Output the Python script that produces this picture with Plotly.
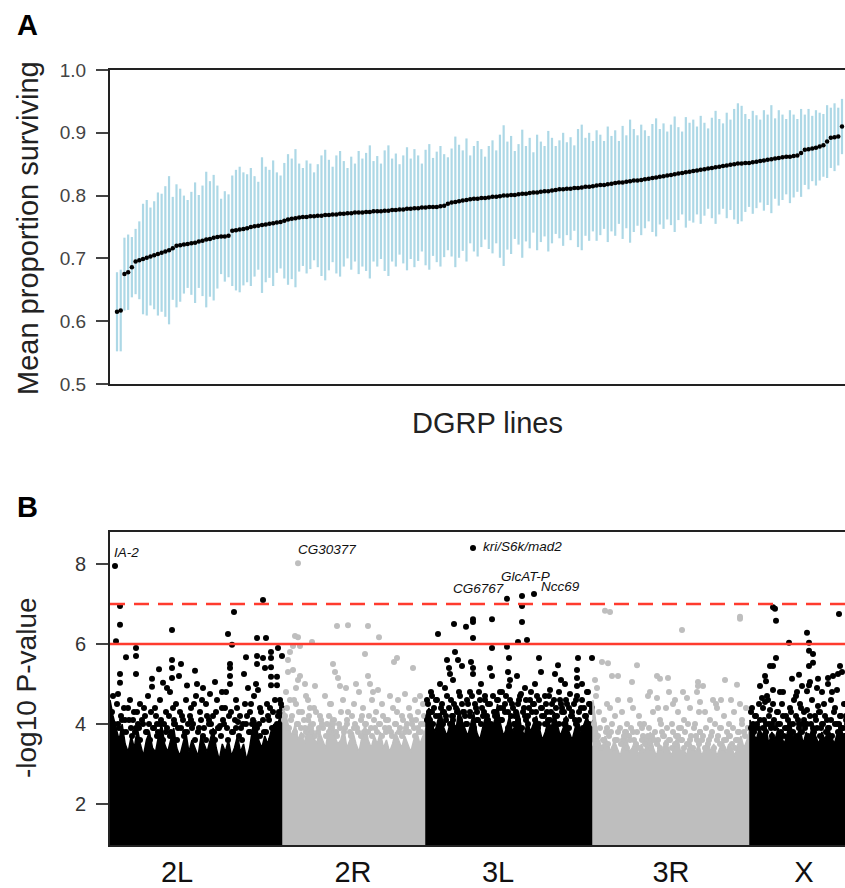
import numpy as np
import plotly.graph_objects as go

# ---------------- Panel A data: DGRP lines (sorted) ----------------
mean_surv = [
    0.615, 0.617, 0.675, 0.678, 0.686, 0.695, 0.697, 0.699, 0.701, 0.703,
    0.705, 0.707, 0.709, 0.711, 0.713, 0.716, 0.720, 0.721, 0.722, 0.723,
    0.724, 0.725, 0.727, 0.728, 0.730, 0.731, 0.733, 0.734, 0.735, 0.735,
    0.736, 0.744, 0.745, 0.746, 0.747, 0.748, 0.750, 0.751, 0.752, 0.753,
    0.754, 0.755, 0.756, 0.757, 0.758, 0.760, 0.762, 0.763, 0.764, 0.765,
    0.766, 0.766, 0.767, 0.767, 0.768, 0.768, 0.769, 0.769, 0.770, 0.770,
    0.771, 0.771, 0.772, 0.772, 0.773, 0.773, 0.773, 0.774, 0.774, 0.775,
    0.775, 0.775, 0.776, 0.776, 0.777, 0.777, 0.778, 0.778, 0.779, 0.779,
    0.780, 0.780, 0.781, 0.781, 0.782, 0.782, 0.782, 0.783, 0.784, 0.787,
    0.789, 0.790, 0.791, 0.792, 0.793, 0.794, 0.795, 0.795, 0.796, 0.796,
    0.797, 0.798, 0.798, 0.799, 0.800, 0.800, 0.801, 0.801, 0.802, 0.803,
    0.803, 0.804, 0.805, 0.805, 0.806, 0.807, 0.807, 0.808, 0.809, 0.810,
    0.810, 0.811, 0.811, 0.812, 0.812, 0.813, 0.814, 0.814, 0.815, 0.816,
    0.817, 0.817, 0.818, 0.819, 0.820, 0.821, 0.821, 0.822, 0.823, 0.824,
    0.824, 0.825, 0.826, 0.827, 0.828, 0.829, 0.830, 0.831, 0.832, 0.833,
    0.834, 0.835, 0.836, 0.837, 0.838, 0.839, 0.840, 0.841, 0.842, 0.843,
    0.844, 0.845, 0.846, 0.847, 0.848, 0.849, 0.850, 0.851, 0.851, 0.852,
    0.852, 0.853, 0.854, 0.855, 0.856, 0.857, 0.858, 0.859, 0.860, 0.861,
    0.862, 0.862, 0.863, 0.864, 0.868, 0.873, 0.874, 0.875, 0.876, 0.878,
    0.880, 0.886, 0.892, 0.893, 0.894, 0.910,
]
err_surv = [
    0.063, 0.065, 0.058, 0.060, 0.048, 0.052, 0.062, 0.088, 0.092, 0.078,
    0.086, 0.098, 0.094, 0.104, 0.118, 0.082, 0.098, 0.090, 0.078, 0.070,
    0.082, 0.096, 0.074, 0.088, 0.108, 0.092, 0.100, 0.082, 0.060, 0.072,
    0.066, 0.088, 0.096, 0.100, 0.090, 0.086, 0.094, 0.080, 0.070, 0.108,
    0.092, 0.086, 0.100, 0.080, 0.074, 0.092, 0.104, 0.096, 0.110, 0.086,
    0.078, 0.090, 0.084, 0.070, 0.082, 0.096, 0.104, 0.088, 0.076, 0.094,
    0.100, 0.084, 0.072, 0.090, 0.078, 0.098, 0.086, 0.094, 0.106, 0.080,
    0.088, 0.076, 0.096, 0.104, 0.082, 0.090, 0.072, 0.086, 0.098, 0.080,
    0.094, 0.084, 0.070, 0.092, 0.100, 0.078, 0.088, 0.096, 0.082, 0.074,
    0.086, 0.104, 0.090, 0.080, 0.098, 0.070, 0.084, 0.092, 0.078, 0.066,
    0.082, 0.090, 0.074, 0.098, 0.112, 0.086, 0.094, 0.070, 0.080, 0.102,
    0.076, 0.088, 0.064, 0.092, 0.080, 0.072, 0.096, 0.084, 0.070, 0.078,
    0.090, 0.074, 0.082, 0.068, 0.094, 0.100, 0.078, 0.086, 0.072, 0.088,
    0.080, 0.070, 0.092, 0.076, 0.084, 0.066, 0.090, 0.074, 0.098, 0.082,
    0.072, 0.088, 0.078, 0.068, 0.086, 0.094, 0.076, 0.084, 0.070, 0.080,
    0.092, 0.074, 0.066, 0.088, 0.078, 0.082, 0.070, 0.086, 0.074, 0.064,
    0.080, 0.090, 0.076, 0.068, 0.084, 0.072, 0.088, 0.096, 0.092, 0.078,
    0.070, 0.082, 0.074, 0.066, 0.080, 0.072, 0.086, 0.064, 0.076, 0.068,
    0.060, 0.074, 0.066, 0.058, 0.070, 0.056, 0.064, 0.052, 0.060, 0.054,
    0.050, 0.058, 0.048, 0.054, 0.046, 0.044,
]
line_rank = list(range(1, len(mean_surv) + 1))

# ---------------- Panel B data: GWAS Manhattan ----------------
chrom_names = ["2L", "2R", "3L", "3R", "X"]
chrom_start = [0, 173, 316, 483, 640]        # cumulative SNP position (plot units)
chrom_end = [173, 316, 483, 640, 740]
chrom_label_pos = [67, 243, 388, 561, 694]
chrom_color = ["black", "#bebebe", "black", "#bebebe", "black"]

# upper edge of the dense (saturated) block of SNPs, per chromosome, sampled along the chromosome
env_2L = [4.6, 4.2, 3.9, 3.6, 4.0, 3.5, 3.3, 3.7, 3.4, 3.9, 3.5, 3.2, 3.6, 3.8, 3.4, 3.3, 3.7, 4.0,
          3.5, 3.3, 3.6, 3.9, 3.4, 3.2, 3.5, 3.8, 3.3, 3.6, 3.4, 3.2, 3.7, 3.5, 3.3, 3.6, 3.9, 3.4,
          3.1, 3.5, 3.3, 3.6, 3.2, 3.4, 3.7, 3.3, 3.5, 3.1, 3.4, 3.9, 4.1, 3.6, 3.4, 3.7, 3.5, 3.8,
          4.0, 3.9, 4.2, 4.3]
env_2R = [4.4, 4.2, 3.9, 3.7, 4.0, 3.6, 3.8, 3.5, 3.9, 4.1, 3.7, 3.5, 3.8, 3.6, 3.4, 3.9, 4.2, 3.7,
          3.5, 3.6, 3.9, 3.4, 3.6, 3.8, 3.5, 3.3, 3.7, 4.0, 3.6, 3.4, 3.7, 3.5, 3.8, 3.4, 3.6, 3.3,
          3.5, 3.8, 3.6, 3.4, 3.7, 3.5, 3.3, 3.6, 3.8, 3.5, 3.7, 3.9]
env_3L = [4.2, 4.4, 4.0, 3.8, 4.1, 4.3, 3.9, 3.7, 4.0, 4.2, 3.8, 4.4, 4.1, 3.9, 3.7, 4.0, 4.3, 3.8,
          3.6, 3.9, 4.2, 4.0, 3.8, 4.1, 4.5, 4.0, 3.7, 3.9, 4.2, 3.8, 4.0, 4.3, 3.9, 3.7, 4.1, 3.8,
          4.0, 4.2, 3.9, 3.6, 3.8, 4.1, 3.9, 4.3, 4.0, 3.7, 3.9, 4.2, 3.8, 3.6, 3.9, 4.1, 3.8, 4.0,
          4.2, 3.9, 4.1]
env_3R = [4.6, 4.0, 3.6, 3.4, 3.7, 3.5, 3.3, 3.6, 3.4, 3.2, 3.5, 3.7, 3.3, 3.4, 3.6, 3.2, 3.5, 3.3,
          3.6, 3.8, 3.4, 3.2, 3.5, 3.3, 3.6, 3.4, 3.2, 3.5, 3.7, 3.3, 3.4, 3.2, 3.6, 3.4, 3.3, 3.5,
          3.2, 3.4, 3.6, 3.3, 3.5, 3.2, 3.4, 3.6, 3.3, 3.5, 3.4, 3.2, 3.5, 3.7, 3.4, 3.6, 3.9]
env_X = [4.1, 3.8, 3.6, 3.9, 3.7, 4.0, 3.5, 3.8, 3.6, 3.9, 3.7, 3.5, 3.8, 4.0, 3.6, 3.7, 3.9, 3.5,
         3.8, 3.6, 4.0, 3.7, 3.5, 3.8, 3.6, 3.9, 3.7, 3.5, 3.8, 4.0, 3.6, 3.8, 3.7]
envelopes = [env_2L, env_2R, env_3L, env_3R, env_X]

# individual SNPs standing out above the dense block
snp_2L_x = [5, 10, 10, 6, 16, 26, 26, 10, 10, 26, 42, 42, 49, 53, 62, 62, 62, 62, 71, 69, 77, 85, 87,
            93, 100, 118, 122, 124, 120, 120, 120, 120, 136, 134, 147, 156, 153, 147, 147, 146, 148,
            161, 161, 161, 161, 161, 168, 172, 153, 155, 167, 167, 105, 112,
            3, 8, 14, 20, 24, 30, 35, 38, 45, 50, 56, 60, 66, 72, 76, 81, 86, 90, 96, 103, 107, 112,
            116, 121, 126, 130, 135, 140, 144, 150, 157, 163, 170, 12, 28, 47, 64, 83, 99, 110, 128,
            142, 159, 168,
            2, 4, 7, 9, 11, 13, 15, 18, 21, 23, 25, 27, 29, 32, 34, 36, 39, 41, 43, 46,
            48, 51, 54, 57, 59, 61, 63, 65, 68, 70, 73, 75, 78, 80, 82, 84, 88, 91, 94, 97,
            101, 104, 106, 109, 113, 115, 117, 119, 123, 125, 127, 131, 133, 137, 139, 141, 143, 145,
            149, 151, 154, 158, 160, 162, 165, 169, 171, 57, 92, 138,
            1, 5, 8, 12, 16, 19, 22, 26, 30, 33, 37, 40, 44, 47, 50, 53, 56, 60, 64, 67,
            71, 74, 77, 81, 85, 89, 93, 96, 99, 102, 105, 108, 111, 114, 118, 122, 126, 129, 132, 136,
            140, 144, 147, 150, 153, 156, 161, 164, 167, 172]
snp_2L_y = [7.95, 6.95, 6.48, 6.07, 5.67, 5.9, 5.7, 5.25, 5.03, 5.25, 5.13, 4.93, 5.37, 5.03, 6.35,
            5.6, 5.4, 5.15, 5.5, 5.2, 4.96, 5.33, 5.0, 4.9, 4.75, 6.25, 5.98, 6.8, 5.5, 5.4, 5.2, 5.0,
            5.67, 5.25, 6.15, 6.15, 7.1, 5.7, 5.5, 5.0, 4.85, 5.8, 5.65, 5.42, 5.18, 4.97, 5.9, 5.7,
            5.65, 5.4, 5.18, 4.97, 5.05, 4.8,
            4.7, 4.75, 4.4, 4.6, 4.3, 4.5, 4.2, 4.7, 4.4, 4.6, 4.3, 4.8, 4.5, 4.2, 4.6, 4.4, 4.7, 4.3,
            4.5, 4.2, 4.6, 4.4, 4.8, 4.3, 4.6, 4.2, 4.5, 4.3, 4.7, 4.4, 4.5, 4.3, 4.6, 4.1, 4.0, 4.0,
            4.1, 4.0, 4.1, 3.95, 4.05, 4.0, 4.1, 4.2,
            4.3, 4.0, 4.5, 3.9, 4.2, 3.8, 4.1, 4.4, 3.9, 4.1, 3.8, 4.3, 3.9, 4.1, 4.4, 3.8, 4.0, 4.3,
            3.9, 4.2, 3.8, 4.1, 4.0, 3.9, 4.2, 3.8, 4.4, 4.0, 3.9, 4.3, 4.1, 3.8, 4.0, 4.2, 3.9, 4.5,
            3.8, 4.1, 3.9, 4.2, 4.0, 3.8, 4.3, 3.9, 4.1, 4.4, 3.9, 4.2, 3.8, 4.1, 4.4, 3.9, 4.0, 4.2,
            3.8, 4.5, 4.1, 3.9, 4.0, 4.3, 3.8, 4.2, 4.4, 3.9, 4.6, 4.3, 4.5, 4.9, 4.6, 4.9,
            3.9, 3.7, 4.0, 3.6, 3.8, 4.1, 3.7, 3.9, 3.6, 4.0, 3.8, 3.6, 3.9, 3.7, 4.0, 3.6, 3.8, 3.7,
            4.0, 3.6, 3.9, 3.7, 3.8, 4.1, 3.6, 3.9, 3.7, 3.6, 4.0, 3.8, 3.6, 3.9, 3.7, 4.0, 3.6, 3.8,
            3.9, 3.7, 3.6, 4.0, 3.8, 3.6, 3.9, 3.7, 4.1, 3.8, 3.6, 3.9, 4.0, 4.4]
snp_2R_x = [188, 188, 185, 183, 190, 202, 227, 238, 258, 269, 255, 223, 287, 284, 303, 183, 188, 195,
            205, 225, 228, 230, 258, 260, 268, 280, 295, 305, 310,
            176, 180, 186, 192, 198, 204, 210, 215, 220, 233, 238, 244, 249, 252, 262, 266, 272, 276,
            283, 288, 292, 299, 302, 308, 313, 178, 180, 178,
            174, 177, 179, 182, 184, 187, 189, 191, 194, 196, 199, 201, 203, 206, 208, 211, 213, 217,
            219, 222, 224, 226, 229, 231, 235, 237, 240, 242, 245, 247, 251, 254, 256, 259, 261, 264,
            267, 270, 273, 275, 278, 281, 285, 287, 290, 293, 295, 297, 300, 304, 306, 309, 311, 314,
            186, 190, 196, 236, 246, 263,
            175, 178, 181, 185, 188, 192, 195, 198, 202, 205, 209, 212, 216, 219, 223, 227, 230, 234,
            237, 241, 244, 248, 251, 255, 258, 262, 265, 269, 272, 276, 279, 282, 286, 289, 292, 296,
            299, 302, 305, 308, 311, 314, 200, 221, 253]
snp_2R_y = [8.02, 6.17, 6.2, 5.95, 5.95, 6.05, 6.45, 6.47, 6.45, 6.17, 5.75, 5.5, 5.65, 5.55, 5.4,
            5.35, 5.1, 5.0, 4.95, 5.3, 5.15, 4.95, 5.2, 5.0, 4.85, 4.7, 4.75, 4.6, 4.7,
            4.8, 4.6, 4.5, 4.3, 4.6, 4.4, 4.2, 4.7, 4.5, 4.6, 4.3, 4.5, 4.8, 4.2, 4.6, 4.3, 4.5, 4.1,
            4.4, 4.6, 4.2, 4.4, 4.1, 4.3, 4.5, 5.6, 5.8, 5.3,
            4.1, 4.4, 3.9, 4.2, 4.6, 4.0, 4.3, 3.9, 4.1, 3.8, 4.2, 3.9, 4.0, 4.3, 3.8, 4.1, 3.9, 4.0,
            4.2, 3.9, 4.1, 3.8, 4.0, 4.3, 3.9, 4.1, 3.8, 4.2, 4.0, 3.9, 4.1, 3.8, 4.0, 4.2, 3.9, 4.1,
            3.8, 4.0, 4.2, 3.9, 4.1, 3.8, 4.0, 4.3, 3.9, 4.1, 3.8, 4.0, 4.2, 3.9, 4.1, 3.8, 4.0, 4.2,
            4.9, 5.2, 4.7, 4.9, 5.0, 4.8,
            4.2, 3.9, 4.1, 3.8, 4.0, 3.7, 3.9, 4.1, 3.8, 3.7, 3.9, 4.0, 3.7, 3.8, 4.0, 3.7, 3.9, 3.8,
            4.0, 3.7, 3.9, 3.8, 3.7, 4.0, 3.8, 3.7, 3.9, 4.0, 3.7, 3.8, 3.9, 3.7, 4.0, 3.8, 3.7, 3.9,
            3.8, 4.0, 3.7, 3.9, 3.8, 4.0, 4.4, 4.5, 4.4]
snp_3L_x = [363, 397, 412, 412, 424, 363, 363, 344, 356, 328, 382, 412, 363, 397, 408, 417, 382, 399,
            429, 448, 468, 482, 345, 348, 352, 337, 339, 340, 361, 363, 363, 380, 382, 398, 400, 399,
            431, 445, 425, 415, 411, 467, 467, 467, 472, 455, 440, 330, 335, 322, 360, 375, 390, 420,
            435, 450, 460, 478,
            318, 322, 326, 331, 336, 341, 346, 350, 354, 358, 366, 370, 373, 378, 384, 388, 393, 396,
            402, 406, 409, 414, 418, 423, 427, 432, 437, 442, 447, 452, 457, 462, 466, 471, 475, 480,
            320, 333, 343, 356, 368, 381, 392, 404, 416, 429, 440, 454, 465, 477,
            317, 319, 321, 324, 327, 329, 332, 334, 337, 339, 342, 344, 347, 349, 352, 355, 357, 360,
            362, 365, 367, 369, 372, 375, 377, 380, 383, 385, 387, 390, 392, 395, 398, 400, 403, 405,
            408, 410, 413, 416, 419, 421, 424, 426, 429, 431, 434, 436, 439, 441, 444, 446, 449, 451,
            454, 456, 459, 461, 464, 467, 469, 472, 474, 477, 479, 481, 343, 371, 407, 451,
            317, 320, 323, 326, 330, 333, 336, 340, 343, 346, 350, 353, 357, 360, 364, 367, 371, 374,
            378, 381, 385, 388, 391, 395, 398, 401, 405, 408, 412, 415, 418, 422, 425, 428, 432, 435,
            438, 442, 445, 449, 452, 456, 459, 462, 466, 469, 473, 476, 479, 482]
snp_3L_y = [8.4, 7.13, 7.2, 6.95, 7.25, 6.62, 6.55, 6.5, 6.43, 6.25, 6.62, 6.55, 6.15, 5.93, 6.05, 6.1,
            5.9, 5.65, 5.65, 5.47, 5.65, 5.65, 5.8, 5.6, 5.45, 5.6, 5.4, 5.25, 5.55, 5.4, 5.25, 5.4,
            5.2, 5.3, 5.1, 4.95, 5.3, 5.25, 5.0, 4.9, 4.75, 5.35, 5.15, 4.95, 5.0, 5.0, 4.85, 5.0,
            4.9, 4.7, 4.8, 4.7, 4.8, 4.6, 4.7, 4.6, 4.75, 4.8,
            4.5, 4.3, 4.6, 4.4, 4.2, 4.6, 4.4, 4.7, 4.3, 4.5, 4.4, 4.6, 4.2, 4.5, 4.3, 4.6, 4.4, 4.7,
            4.5, 4.3, 4.6, 4.4, 4.2, 4.5, 4.7, 4.4, 4.3, 4.5, 4.2, 4.4, 4.5, 4.3, 4.6, 4.4, 4.2, 4.5,
            4.1, 4.0, 4.1, 4.0, 4.1, 4.0, 4.1, 4.0, 4.1, 4.0, 4.1, 4.0, 4.1, 4.0,
            4.6, 4.3, 4.8, 4.4, 4.6, 4.2, 4.5, 4.3, 4.7, 4.4, 4.2, 4.5, 4.3, 4.8, 4.5, 4.2, 4.6, 4.3,
            4.7, 4.5, 4.3, 4.8, 4.4, 4.6, 4.2, 4.5, 4.7, 4.3, 4.6, 4.4, 4.8, 4.5, 4.3, 4.6, 4.4, 4.2,
            4.5, 4.7, 4.3, 4.6, 4.4, 4.8, 4.5, 4.3, 4.6, 4.4, 4.2, 4.5, 4.7, 4.3, 4.6, 4.4, 4.8, 4.5,
            4.3, 4.6, 4.4, 4.2, 4.5, 4.7, 4.3, 4.6, 4.4, 4.8, 4.5, 4.3, 5.1, 5.0, 5.2, 5.1,
            4.1, 4.3, 4.0, 4.2, 3.9, 4.3, 4.1, 4.0, 4.2, 3.9, 4.1, 4.3, 4.0, 4.2, 3.9, 4.1, 4.0, 4.3,
            4.1, 3.9, 4.2, 4.0, 4.1, 4.3, 3.9, 4.2, 4.0, 4.1, 3.9, 4.2, 4.0, 4.3, 4.1, 3.9, 4.2, 4.0,
            4.1, 3.9, 4.2, 4.0, 4.3, 4.1, 3.9, 4.2, 4.0, 4.1, 3.9, 4.2, 4.0, 4.4]
snp_3R_x = [495, 500, 630, 630, 572, 492, 498, 527, 547, 550, 558, 502, 508, 522, 588, 593, 588, 615,
            627, 540, 559, 573, 587, 508, 538, 547, 565, 577, 590, 603, 611, 630, 485, 487, 486,
            489, 494, 500, 505, 512, 517, 523, 529, 534, 543, 550, 556, 562, 568, 574, 580, 585, 595,
            600, 607, 614, 619, 624, 632, 636, 497, 515, 532, 552, 571, 590, 610, 628,
            484, 487, 490, 493, 496, 499, 502, 505, 508, 510, 513, 516, 519, 521, 524, 527, 530, 533,
            536, 539, 542, 545, 548, 551, 554, 557, 560, 563, 566, 569, 572, 575, 578, 581, 584, 587,
            590, 593, 596, 599, 602, 605, 608, 611, 614, 617, 620, 623, 626, 629, 632, 635, 638, 497,
            520, 548, 563, 589, 606, 621,
            485, 488, 491, 494, 498, 501, 504, 507, 511, 514, 517, 520, 523, 526, 529, 532, 535, 538,
            541, 544, 547, 550, 553, 556, 559, 562, 565, 568, 571, 574, 577, 580, 583, 586, 589, 592,
            595, 598, 601, 604, 607, 610, 613, 616, 619, 622, 625, 628, 634, 638]
snp_3R_y = [6.83, 6.8, 6.63, 6.68, 6.35, 5.55, 5.52, 5.47, 5.2, 5.13, 5.15, 5.2, 5.2, 5.05, 5.05, 4.95,
            4.95, 5.1, 4.98, 4.8, 4.8, 4.8, 4.8, 4.6, 4.7, 4.65, 4.6, 4.65, 4.55, 4.6, 4.6, 4.5, 5.1,
            4.9, 4.7,
            4.3, 4.1, 4.4, 4.2, 4.3, 4.0, 4.4, 4.2, 4.0, 4.3, 4.1, 4.4, 4.0, 4.3, 4.1, 4.4, 4.0, 4.3,
            4.1, 4.4, 4.2, 4.0, 4.3, 4.1, 4.4, 3.9, 3.8, 3.9, 3.8, 3.9, 3.8, 3.9, 3.8,
            4.0, 3.7, 3.9, 3.6, 3.8, 3.7, 4.0, 3.6, 3.8, 3.9, 3.6, 3.8, 3.7, 3.9, 3.6, 3.8, 4.0, 3.7,
            3.6, 3.9, 3.7, 3.8, 3.6, 4.0, 3.7, 3.9, 3.6, 3.8, 3.7, 3.9, 3.6, 3.8, 4.0, 3.7, 3.9, 3.6,
            3.8, 3.7, 3.9, 3.6, 3.8, 4.0, 3.7, 3.9, 3.6, 3.8, 3.7, 3.9, 3.6, 3.8, 4.0, 3.7, 3.9, 4.5,
            4.6, 4.4, 4.5, 4.3, 4.5, 4.6,
            3.5, 3.7, 3.4, 3.6, 3.5, 3.8, 3.4, 3.6, 3.5, 3.7, 3.4, 3.6, 3.8, 3.5, 3.4, 3.6, 3.5, 3.7,
            3.4, 3.6, 3.5, 3.4, 3.7, 3.5, 3.6, 3.4, 3.5, 3.7, 3.6, 3.4, 3.5, 3.6, 3.4, 3.7, 3.5, 3.6,
            3.4, 3.5, 3.7, 3.4, 3.6, 3.5, 3.4, 3.6, 3.7, 3.5, 3.4, 3.6, 3.8, 3.9]
snp_X_x = [663, 665, 666, 729, 697, 679, 699, 699, 703, 666, 660, 663, 699, 703, 730, 732, 655, 656,
           682, 689, 692, 699, 700, 708, 718, 718, 723, 728, 650, 663, 673, 687, 697, 712, 721, 727,
           652, 655, 663, 660, 690, 708, 697,
           642, 646, 649, 654, 658, 668, 672, 676, 680, 684, 688, 694, 702, 705, 710, 714, 717, 725,
           731, 734, 645, 662, 678, 692, 711, 729,
           641, 643, 645, 648, 650, 653, 656, 659, 661, 664, 667, 670, 673, 675, 678, 681, 683, 686,
           689, 691, 694, 697, 700, 703, 706, 709, 712, 715, 718, 721, 724, 727, 730, 733, 736, 657,
           670, 686, 707, 722,
           641, 644, 647, 650, 653, 656, 659, 662, 665, 668, 671, 674, 677, 680, 683, 686, 689, 692,
           695, 698, 701, 704, 707, 710, 713, 716, 719, 722, 725, 728, 731, 734, 737, 739, 736]
snp_X_y = [6.92, 6.88, 6.58, 6.75, 6.28, 6.03, 6.03, 5.83, 5.75, 5.65, 5.45, 5.45, 5.45, 5.53, 5.45,
           5.3, 5.2, 5.07, 5.13, 5.23, 4.95, 4.97, 5.05, 5.13, 5.15, 5.0, 5.2, 5.25, 4.95, 4.85, 4.8,
           4.8, 4.82, 4.8, 4.6, 4.85, 4.65, 4.55, 4.5, 4.35, 4.5, 4.45, 4.35,
           4.4, 4.2, 4.5, 4.1, 4.6, 4.3, 4.5, 4.2, 4.4, 4.6, 4.1, 4.3, 4.6, 4.2, 4.3, 4.5, 4.1, 4.4,
           4.2, 4.5, 3.9, 4.0, 3.9, 4.0, 3.9, 4.0,
           4.3, 4.0, 4.2, 3.9, 4.1, 4.4, 4.0, 4.2, 3.9, 4.1, 4.3, 4.0, 4.2, 3.9, 4.1, 4.3, 4.0, 4.2,
           3.9, 4.4, 4.1, 4.0, 4.2, 3.9, 4.1, 4.3, 4.0, 4.2, 3.9, 4.1, 4.3, 4.0, 4.2, 3.9, 4.1, 4.7,
           4.8, 4.7, 4.9, 4.8,
           3.9, 3.8, 4.0, 3.7, 3.9, 3.8, 4.0, 3.7, 3.9, 4.0, 3.8, 3.7, 3.9, 4.0, 3.8, 3.7, 4.0, 3.8,
           3.9, 3.7, 4.0, 3.8, 3.9, 3.7, 4.0, 3.8, 3.9, 3.7, 4.0, 3.8, 3.9, 3.7, 4.0, 3.8, 4.2]
snps_x = [snp_2L_x, snp_2R_x, snp_3L_x, snp_3R_x, snp_X_x]
snps_y = [snp_2L_y, snp_2R_y, snp_3L_y, snp_3R_y, snp_X_y]
for _sx, _sy in zip(snps_x, snps_y):
    assert len(_sx) == len(_sy), (len(_sx), len(_sy))

gene_names = ["IA-2", "CG30377", "kri/S6k/mad2", "GlcAT-P", "CG6767", "Ncc69"]
gene_x = [5, 188, 363, 412, 397, 424]
gene_y = [7.95, 8.02, 8.4, 7.2, 7.13, 7.25]
gene_anchor = [("left", "bottom", -3, 4), ("left", "bottom", -2, 4), ("left", "middle", 8, 2),
               ("center", "bottom", 3, 10), ("right", "bottom", -1, 1), ("left", "bottom", 5, -2)]

sig_suggestive = 6.0
sig_bonferroni = 7.0
Y_MIN_B = 0.975

# ---------------- figure ----------------
W, H = 845, 888
FONT = "Liberation Sans, Arial, Helvetica, sans-serif"
x0 = 110 / W
ya_dom = [1 - 384 / H, 1 - 70 / H]
yb_dom = [1 - 845 / H, 1 - 532 / H]

fig = go.Figure()

fig.add_trace(go.Scatter(
    x=line_rank, y=mean_surv, mode="markers",
    marker=dict(color="black", size=4.5),
    error_y=dict(type="data", array=err_surv, visible=True, color="#add8e6", thickness=2.2, width=0),
    xaxis="x", yaxis="y", showlegend=False, hoverinfo="skip"))

for name, s, e, env, col, sx, sy in zip(chrom_names, chrom_start, chrom_end, envelopes,
                                         chrom_color, snps_x, snps_y):
    ex = np.linspace(s, e, len(env))
    fig.add_trace(go.Scatter(
        x=[s] + list(ex) + [e], y=[Y_MIN_B - 0.5] + list(env) + [Y_MIN_B - 0.5],
        fill="toself", fillcolor=col, mode="lines", line=dict(color=col, width=1.5),
        xaxis="x2", yaxis="y2", showlegend=False, hoverinfo="skip"))
    fig.add_trace(go.Scatter(
        x=sx, y=sy, mode="markers", marker=dict(color=col, size=6),
        xaxis="x2", yaxis="y2", showlegend=False, hoverinfo="skip", cliponaxis=True))

fig.add_hline(y=sig_bonferroni, line=dict(color="#ff3b2e", width=2.5, dash="15px,9px"),
              xref="x2", yref="y2")
fig.add_hline(y=sig_suggestive, line=dict(color="#ff3b2e", width=2.5),
              xref="x2", yref="y2")

for g, gx, gy, (xa, ya, dx, dy) in zip(gene_names, gene_x, gene_y, gene_anchor):
    fig.add_annotation(x=gx, y=gy, xref="x2", yref="y2", text="<i>%s</i>" % g, showarrow=False,
                       xanchor=xa, yanchor=ya, xshift=dx, yshift=dy,
                       font=dict(family=FONT, size=13.5, color="#111"))

axis_common = dict(showline=True, linecolor="#222", linewidth=2, showgrid=False, zeroline=False,
                   automargin=False)

fig.update_layout(
    width=W, height=H, margin=dict(l=0, r=0, t=0, b=0),
    paper_bgcolor="white", plot_bgcolor="white",
    font=dict(family=FONT),
    xaxis=dict(domain=[x0, 1], range=[-0.883, 196.81], showticklabels=False, ticks="",
               mirror=True, anchor="y", **axis_common),
    yaxis=dict(domain=ya_dom, range=[0.5, 1.0], tickvals=[0.5, 0.6, 0.7, 0.8, 0.9, 1.0],
               ticktext=["0.5", "0.6", "0.7", "0.8", "0.9", "1.0"],
               ticks="outside", ticklen=12, tickwidth=1.5, tickcolor="#444",
               tickfont=dict(size=19, color="#444"), ticklabelstandoff=6,
               anchor="x", **axis_common),
    xaxis2=dict(domain=[x0, 1], range=[0, 735], tickvals=chrom_label_pos, ticktext=chrom_names,
                ticks="", tickfont=dict(size=29, color="#111"),
                mirror=True, anchor="y2", **axis_common),
    yaxis2=dict(domain=yb_dom, range=[Y_MIN_B, 8.8], tickvals=[2, 4, 6, 8],
                ticks="outside", ticklen=12, tickwidth=1.5, tickcolor="#444",
                tickfont=dict(size=20, color="#333"), ticklabelstandoff=6,
                anchor="x2", **axis_common),
)

# panel letters and axis titles
fig.add_annotation(x=27 / W, y=1 - 25 / H, xref="paper", yref="paper", text="<b>A</b>",
                   showarrow=False, xanchor="center", yanchor="middle",
                   font=dict(size=29, color="black"))
fig.add_annotation(x=27 / W, y=1 - 507 / H, xref="paper", yref="paper", text="<b>B</b>",
                   showarrow=False, xanchor="center", yanchor="middle",
                   font=dict(size=29, color="black"))
fig.add_annotation(x=28 / W, y=1 - 228 / H, xref="paper", yref="paper",
                   text="Mean proportion surviving", textangle=-90, showarrow=False,
                   xanchor="center", yanchor="middle", font=dict(size=29, color="#222"))
fig.add_annotation(x=487 / W, y=1 - 423 / H, xref="paper", yref="paper", text="DGRP lines",
                   showarrow=False, xanchor="center", yanchor="middle",
                   font=dict(size=29, color="#222"))
fig.add_annotation(x=26 / W, y=1 - 688 / H, xref="paper", yref="paper", text="-log10 P-value",
                   textangle=-90, showarrow=False, xanchor="center", yanchor="middle",
                   font=dict(size=28, color="#222"))

fig.write_html("out.html", config={"displayModeBar": False},
               post_script="document.body.style.margin='0';document.body.style.overflow='hidden';")
